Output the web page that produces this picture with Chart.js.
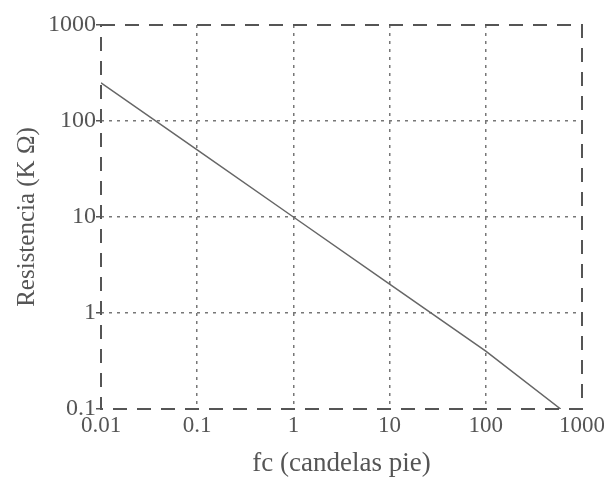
<!DOCTYPE html>
<html>
<head>
<meta charset="utf-8">
<script src="https://cdn.jsdelivr.net/npm/chart.js@4/dist/chart.umd.min.js"></script>
<style>
	body { margin: 0; background: #fff; }
	#wrap { width: 604px; height: 483px; }
</style>
</head>
<body>
<div id="wrap"><canvas id="cntx_ldr"></canvas></div>
<script>
// fc (candelas pie) vs resistance (kOhm)
const fc_values = [0.01, 0.1, 1, 10, 100, 600];
const res_values = [250, 50, 10, 2, 0.4, 0.1];

const x_ticks = [0.01, 0.1, 1, 10, 100, 1000];
const x_labels = ["0.01", "0.1", "1", "10", "100", "1000"];
const y_ticks = [0.1, 1, 10, 100, 1000];
const y_labels = ["0.1", "1", "10", "100", "1000"];

const ink = "#555";
const serif = "'Liberation Serif', 'DejaVu Serif', serif";

// dashed outer frame, the inner grid stays dotted
const framePlugin = {
	id: "frame",
	afterDraw: (chart) => {
		const a = chart.chartArea;
		const ctx = chart.ctx;
		ctx.save();
		ctx.strokeStyle = ink;
		ctx.lineWidth = 2;
		ctx.setLineDash([14, 10]);
		ctx.strokeRect(a.left, a.top, a.right - a.left, a.bottom - a.top);
		ctx.restore();
	},
};

const innerGrid = (len) => (c) =>
	c.index === 0 || c.index === len - 1 ? "rgba(0,0,0,0)" : "#777";

drawChart = (canvas) => {
	const data = fc_values.map((x, i) => ({ x: x, y: res_values[i] }));
	new Chart(canvas, {
		type: "scatter",
		data: {
			datasets: [
				{
					data: data,
					showLine: true,
					borderColor: "#666",
					borderWidth: 1.5,
					pointRadius: 0,
				},
			],
		},
		options: {
			responsive: true,
			maintainAspectRatio: false,
			animation: false,
			layout: { padding: { top: 25, right: 22, left: 0, bottom: 0 } },
			plugins: {
				legend: { display: false },
				tooltip: { enabled: false },
			},
			scales: {
				x: {
					type: "logarithmic",
					min: 0.01,
					max: 1000,
					afterBuildTicks: (s) => {
						s.ticks = x_ticks.map((v) => ({ value: v }));
					},
					afterFit: (s) => {
						s.height = 74;
						s.paddingRight = 0;
						s.paddingLeft = 0;
					},
					ticks: {
						callback: (v) => x_labels[x_ticks.indexOf(v)],
						color: ink,
						font: { family: serif, size: 23 },
						maxRotation: 0,
						autoSkip: false,
						padding: 3,
					},
					grid: {
						color: innerGrid(x_ticks.length),
						lineWidth: 1.5,
						drawTicks: false,
					},
					border: { display: false, dash: [3, 5] },
					title: {
						display: true,
						text: "fc (candelas pie)",
						color: ink,
						font: { family: serif, size: 27 },
						padding: { top: 0, bottom: 3 },
					},
				},
				y: {
					type: "logarithmic",
					min: 0.1,
					max: 1000,
					afterBuildTicks: (s) => {
						s.ticks = y_ticks.map((v) => ({ value: v }));
					},
					afterFit: (s) => {
						s.width = 101;
						s.paddingTop = 0;
						s.paddingBottom = 0;
					},
					ticks: {
						callback: (v) => y_labels[y_ticks.indexOf(v)],
						color: ink,
						font: { family: serif, size: 24 },
						autoSkip: false,
						padding: 0,
					},
					grid: {
						color: innerGrid(y_ticks.length),
						lineWidth: 1.5,
						drawTicks: true,
						tickLength: 5,
						tickColor: ink,
					},
					border: { display: false, dash: [3, 5] },
					title: {
						display: true,
						text: "Resistencia (K Ω)",
						color: ink,
						font: { family: serif, size: 25 },
						padding: { top: 12, bottom: 0 },
					},
				},
			},
		},
		plugins: [framePlugin],
	});
};

drawChart(document.querySelector("#cntx_ldr"));
</script>
</body>
</html>
